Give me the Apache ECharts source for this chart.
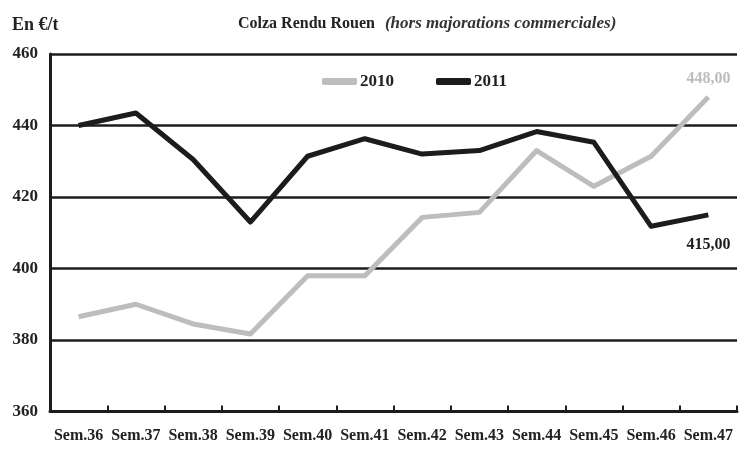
<!DOCTYPE html>
<html>
<head>
<meta charset="utf-8">
<script src="https://cdn.jsdelivr.net/npm/echarts@6/dist/echarts.min.js"></script>
<style>
html,body{margin:0;padding:0;background:#fff;}
#chart{width:747px;height:451px;}
</style>
</head>
<body>
<div id="chart"></div>
<script>
const categories = ['Sem.36','Sem.37','Sem.38','Sem.39','Sem.40','Sem.41','Sem.42','Sem.43','Sem.44','Sem.45','Sem.46','Sem.47'];
const values2010 = [386.5, 390, 384.5, 381.7, 398, 398, 414.3, 415.7, 433, 423, 431.4, 448];
const values2011 = [440, 443.5, 430.5, 413, 431.4, 436.3, 432, 433, 438.3, 435.3, 411.8, 415];
const yTicks = [360, 380, 400, 420, 440, 460];

const FONT = "'Liberation Serif', 'Times New Roman', serif";
const GRAY = '#bdbdbd';
const BLACK = '#1c1c1c';

function withLastLabel(arr, color, position, distance) {
  return arr.map((v, i) => i === arr.length - 1
    ? { value: v, label: { show: true, position: position, distance: distance, color: color,
        fontFamily: FONT, fontWeight: 'bold', fontSize: 16,
        formatter: p => p.value.toFixed(2).replace('.', ',') } }
    : v);
}

const chart = echarts.init(document.getElementById('chart'), null, { renderer: 'canvas' });
chart.setOption({
  animation: false,
  backgroundColor: '#fff',
  title: [
    { text: 'En €/t', left: 12, top: 16, padding: 0,
      textStyle: { fontFamily: FONT, fontWeight: 'bold', fontSize: 18, color: '#222' } },
    { text: '{a|Colza Rendu Rouen}  {b|(hors majorations commerciales)}', left: 238, top: 15, padding: 0,
      textStyle: { rich: {
        a: { fontFamily: FONT, fontWeight: 'bold', fontSize: 16, color: '#222' },
        b: { fontFamily: FONT, fontStyle: 'italic', fontSize: 17, color: '#333' }
      } } }
  ],
  legend: {
    left: 322, top: 73, padding: 0,
    itemWidth: 35, itemHeight: 7, itemGap: 42,
    icon: 'roundRect',
    textStyle: { fontFamily: FONT, fontWeight: 'bold', fontSize: 17, color: '#222', padding: [0,0,0,-2] },
    data: ['2010', '2011']
  },
  grid: { left: 50, right: 10, top: 54, bottom: 39.5, containLabel: false },
  xAxis: {
    type: 'category',
    data: categories,
    boundaryGap: true,
    axisLine: { lineStyle: { color: BLACK, width: 3 } },
    axisTick: { show: true, inside: true, length: 6, lineStyle: { color: BLACK, width: 2 } },
    axisLabel: { interval: 0, margin: 16, fontFamily: FONT, fontWeight: 'bold', fontSize: 16, color: '#222' },
    splitLine: { show: false }
  },
  yAxis: {
    type: 'value',
    min: yTicks[0], max: yTicks[yTicks.length - 1], interval: 20,
    axisLine: { show: true, lineStyle: { color: BLACK, width: 3 } },
    axisTick: { show: false },
    axisLabel: { margin: 12, fontFamily: FONT, fontWeight: 'bold', fontSize: 17, color: '#222' },
    splitLine: { show: true, lineStyle: { color: BLACK, width: 2.5 } }
  },
  series: [
    { name: '2010', type: 'line', data: withLastLabel(values2010, GRAY, 'top', 10),
      showSymbol: true, symbol: 'circle', symbolSize: 0.1, color: GRAY,
      lineStyle: { color: GRAY, width: 5, join: 'round' }, z: 3 },
    { name: '2011', type: 'line', data: withLastLabel(values2011, BLACK, 'bottom', 22),
      showSymbol: true, symbol: 'circle', symbolSize: 0.1, color: BLACK,
      lineStyle: { color: BLACK, width: 5, join: 'round' }, z: 4 }
  ]
});
</script>
</body>
</html>
